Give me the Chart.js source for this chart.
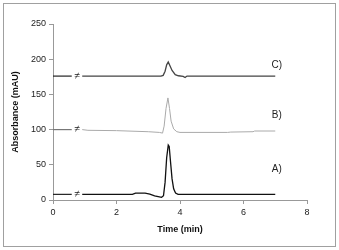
<!DOCTYPE html>
<html>
<head>
<meta charset="utf-8">
<script src="https://cdn.jsdelivr.net/npm/chart.js@4"></script>
<style>
  body { margin: 0; background: #fff; }
  #wrap { position: relative; width: 339px; height: 250px; }
  #frame { position: absolute; left: 3px; top: 3px; width: 331px; height: 242px; border: 1px solid #a0a0a0; pointer-events: none; }
</style>
</head>
<body>
<div id="wrap">
  <canvas id="chart" width="339" height="250"></canvas>
  <div id="frame"></div>
</div>
<script>
// chromatogram traces (time in min, absorbance in mAU)
const timeA = [0.92, 2.5, 2.6, 2.9, 3.05, 3.2, 3.35, 3.42, 3.48, 3.53, 3.58, 3.63, 3.66, 3.7, 3.75, 3.8, 3.86, 3.94, 7.0];
const absA  = [8, 8, 9.8, 9.8, 8.5, 6, 4.5, 3.8, 6, 25, 60, 78, 76, 55, 30, 16, 10, 8, 8];

const timeB = [0.92, 1.1, 2.0, 3.0, 3.35, 3.45, 3.5, 3.56, 3.62, 3.67, 3.72, 3.8, 3.9, 4.0, 5.5, 5.6, 6.3, 6.35, 7.0];
const absB  = [100, 99, 98.5, 97, 96, 95, 105, 130, 145, 130, 112, 101, 97, 96, 96, 96.5, 97, 98, 98];

const timeC = [0.92, 3.4, 3.47, 3.53, 3.58, 3.63, 3.68, 3.75, 3.85, 3.95, 4.1, 4.16, 4.22, 7.0];
const absC  = [176, 176, 177, 183, 192, 196, 191, 184, 178, 176.5, 175.5, 174, 176, 176];

// short lead-in segments before the axis break
const leadTime = [0, 0.59];
const baselines = [8, 100, 176];

const breakX = 0.76;
const traceNames = ['A)', 'B)', 'C)'];
const labelX = 7.05;
const labelY = [44, 121, 192];

const yTicks = [0, 50, 100, 150, 200, 250];
const xTicks = [0, 2, 4, 6, 8];

function pts(xs, ys) {
    return xs.map((x, i) => ({ x: x, y: ys[i] }));
}

const lineColors = ['#111', '#aaaaaa', '#444'];
const leadColors = ['#222', '#777', '#222'];

const datasets = [];
[[timeA, absA], [timeB, absB], [timeC, absC]].forEach((t, i) => {
    datasets.push({
        data: pts(t[0], t[1]),
        borderColor: lineColors[i],
        borderWidth: i === 1 ? 1 : 1.3,
        showLine: true, pointRadius: 0, tension: 0
    });
    datasets.push({
        data: pts(leadTime, [baselines[i], baselines[i]]),
        borderColor: leadColors[i],
        borderWidth: 1.2,
        showLine: true, pointRadius: 0
    });
});

const markers = {
    id: 'markers',
    afterDatasetsDraw(chart) {
        const { ctx, scales: { x, y } } = chart;
        ctx.save();
        ctx.fillStyle = '#222';
        ctx.textAlign = 'center';
        ctx.textBaseline = 'middle';
        ctx.font = '10px "Liberation Sans", "DejaVu Sans", sans-serif';
        baselines.forEach(b => {
            ctx.fillText('\u2260', x.getPixelForValue(breakX), y.getPixelForValue(b));
        });
        ctx.font = '10px "Liberation Sans", Arial, sans-serif';
        traceNames.forEach((n, i) => {
            ctx.fillText(n, x.getPixelForValue(labelX), y.getPixelForValue(labelY[i]));
        });
        ctx.restore();
    }
};

const tickFont = { family: '"Liberation Sans", Arial, sans-serif', size: 9 };
const titleFont = { family: '"Liberation Sans", Arial, sans-serif', size: 9, weight: 'bold' };

new Chart(document.getElementById('chart').getContext('2d'), {
    type: 'scatter',
    data: { datasets: datasets },
    options: {
        responsive: false,
        animation: false,
        layout: { padding: { left: 6, top: 24, right: 32, bottom: 11 } },
        plugins: { legend: { display: false }, tooltip: { enabled: false } },
        scales: {
            x: {
                min: 0, max: 8,
                afterBuildTicks: s => { s.ticks = xTicks.map(v => ({ value: v })); },
                afterFit: s => { s.height = 39; },
                ticks: { font: tickFont, color: '#222', padding: 3 },
                grid: { drawOnChartArea: false, drawTicks: true, tickLength: 4, color: '#999' },
                border: { color: '#999' },
                title: { display: true, text: 'Time (min)', font: titleFont, color: '#111' }
            },
            y: {
                min: 0, max: 250,
                afterBuildTicks: s => { s.ticks = yTicks.map(v => ({ value: v })); },
                afterFit: s => { s.width = 47; },
                ticks: { font: tickFont, color: '#222', padding: 3 },
                grid: { drawOnChartArea: false, drawTicks: true, tickLength: 4, color: '#999' },
                border: { color: '#999' },
                title: { display: true, text: 'Absorbance (mAU)', font: titleFont, color: '#111' }
            }
        }
    },
    plugins: [markers]
});
</script>
</body>
</html>
